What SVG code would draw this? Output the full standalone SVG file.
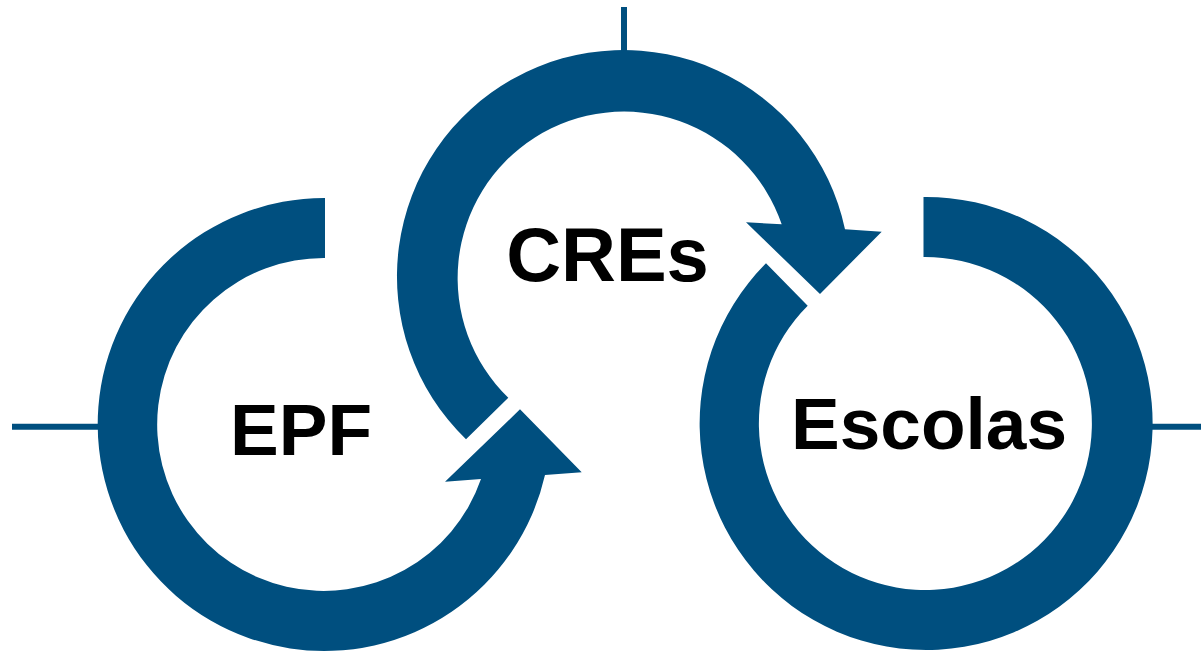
<svg xmlns="http://www.w3.org/2000/svg" width="1201" height="653" viewBox="0 0 1201 653">
<style>
.ring{fill:#004f7f;stroke:none}
.tick{stroke:#004f7f;stroke-width:6;fill:none}
.lbl{font-family:"Liberation Sans",Arial,sans-serif;font-weight:bold;fill:#000;text-anchor:middle}
</style>
<rect width="1201" height="653" fill="#fff"/>
<g id="connectors">
<line class="tick" x1="12" y1="426.7" x2="100" y2="426.7"/>
<line class="tick" x1="1148" y1="426.7" x2="1201" y2="426.7"/>
<line class="tick" x1="624" y1="7" x2="624" y2="54"/>
</g>
<g id="node-epf">
<path class="ring" d="M 325 198 A 226.5 226.5 0 1 0 545 475 L 581.7 472.3 L 520 409.3 L 445 481.7 L 481 479 A 166.5 166.5 0 1 1 325 258 Z"/>
<text class="lbl" x="301" y="455" font-size="73">EPF</text>
</g>
<g id="node-cres">
<path class="ring" d="M 466 439.3 A 226.5 226.5 0 1 1 845 229.3 L 881.7 231.7 L 820 294 L 746 222.3 L 781.7 224.3 A 166.5 166.5 0 1 0 508.3 397.7 Z"/>
<text class="lbl" x="607.5" y="280.5" font-size="76">CREs</text>
</g>
<g id="node-escolas">
<path class="ring" d="M 923.5 197 A 226.5 226.5 0 1 1 766 263.3 L 807.7 305.7 A 166.5 166.5 0 1 0 923.5 257 Z"/>
<text class="lbl" x="929" y="449" font-size="73">Escolas</text>
</g>
</svg>
